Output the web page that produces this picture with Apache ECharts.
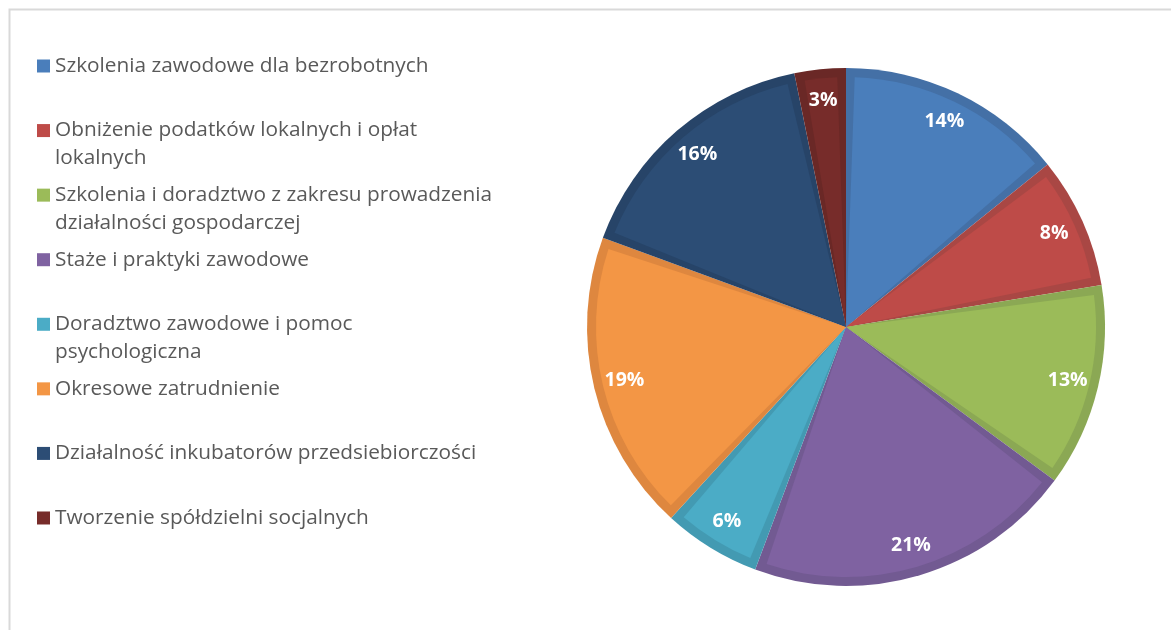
<!DOCTYPE html>
<html><head><meta charset="utf-8">
<script src="https://cdn.jsdelivr.net/npm/echarts@6/dist/echarts.min.js"></script>
<style>html,body{margin:0;padding:0;background:#fff}#c{width:1171px;height:630px}</style>
</head><body><div id="c"></div>
<script>
const categories = [
  'Szkolenia zawodowe dla bezrobotnych',
  'Obniżenie podatków lokalnych i opłat lokalnych',
  'Szkolenia i doradztwo z zakresu prowadzenia działalności gospodarczej',
  'Staże i praktyki zawodowe',
  'Doradztwo zawodowe i pomoc psychologiczna',
  'Okresowe zatrudnienie',
  'Działalność inkubatorów przedsiebiorczości',
  'Tworzenie spółdzielni socjalnych'
];
// number of words on the first legend line (0 = no wrap)
const legendBreakAfter = [0, 5, 6, 0, 4, 0, 0, 0];
const values = [14.2, 8.2, 12.7, 20.6, 6.1, 18.8, 16.2, 3.2];
const fillColors = ['#4A7EBB','#BE4B48','#9BBB59','#7F62A1','#4BACC6','#F39645','#2C4D75','#772C2A'];
const edgeColors = ['#4470A6','#A94744','#8BA854','#725A92','#439AB2','#DE873F','#274468','#6A2826'];

const FONT = 'Open Sans';
const LH = 28;
const R = 259;
const CX = 846, CY = 327;

const chart = echarts.init(document.getElementById('c'), null, {renderer:'canvas'});

function legendText(name, k){
  if (!k) return name;
  const w = name.split(' ');
  return '\n' + w.slice(0, k).join(' ') + '\n' + w.slice(k).join(' ');
}

const legends = categories.map((name, i) => {
  const lineCenter = 66 + i * 64.57;
  const two = legendBreakAfter[i] > 0;
  return {
    data: [name],
    orient: 'vertical',
    left: 37,
    top: two ? lineCenter - 1.5 * LH : lineCenter - 0.5 * LH,
    padding: 0,
    itemWidth: 13,
    itemHeight: 13,
    itemGap: 0,
    selectedMode: false,
    icon: 'rect',
    formatter: n => legendText(n, legendBreakAfter[i]),
    textStyle: {
      fontFamily: FONT, fontSize: 20.8, color: '#595959', lineHeight: LH
    }
  };
});

chart.setOption({
  animation: false,
  backgroundColor: '#fff',
  graphic: [{
    type: 'rect', left: 7, top: 7, silent: true,
    shape: {x: 0, y: 0, width: 1300, height: 800},
    style: {fill: 'none', stroke: '#D9D9D9', lineWidth: 2}
  }],
  legend: legends,
  series: [
    {
      type: 'pie', z: 3, center: [CX, CY], radius: R - 9, startAngle: 90,
      padAngle: 4.0, silent: true, label: {show: false}, labelLine: {show: false},
      data: categories.map((n, i) => ({name: n, value: values[i], itemStyle: {color: fillColors[i]}}))
    },
    {
      type: 'pie', z: 2, center: [CX, CY], radius: R, startAngle: 90,
      silent: true, label: {show: false}, labelLine: {show: false},
      data: categories.map((n, i) => ({name: n, value: values[i], itemStyle: {color: edgeColors[i]}}))
    },
    {
      type: 'pie', z: 4, center: [CX, CY], radius: [200, 250], startAngle: 90,
      silent: true, labelLine: {show: false},
      itemStyle: {color: 'rgba(0,0,0,0)'},
      label: {
        show: true, position: 'inside', color: '#fff', fontFamily: FONT,
        fontWeight: 'bold', fontSize: 19.5,
        formatter: p => Math.round(p.value) + '%'
      },
      data: categories.map((n, i) => ({name: n, value: values[i]}))
    }
  ]
});
</script></body></html>
